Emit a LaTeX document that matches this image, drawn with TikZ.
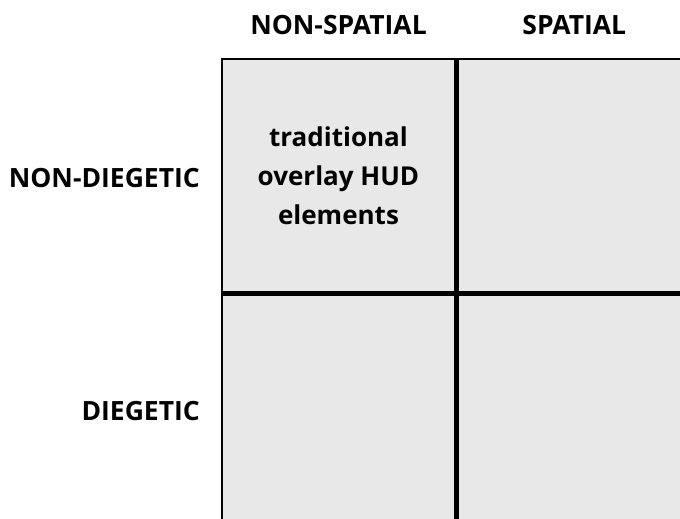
\documentclass[tikz,border=0pt]{standalone}
\usepackage{fontspec}
\setmainfont{Open Sans}
\usetikzlibrary{positioning}

\tikzset{
  cell/.style={draw=black, fill=gray!18, line width=2.8pt,
    minimum width=233pt, minimum height=233pt, inner sep=0pt,
    align=center, font=\bfseries\fontsize{26}{39}\selectfont},
  head/.style={font=\bfseries\fontsize{26.5}{28}\selectfont, inner sep=0pt}
}

\begin{document}
\begin{tikzpicture}[x=1pt,y=-1pt]
  \useasboundingbox (0,0) rectangle (680,519);

  % grid of cells
  \node[cell] (c11) at (338.5,175.5) {traditional\\overlay HUD\\elements};
  \node[cell, right=0pt of c11] (c12) {};
  \node[cell, below=0pt of c11] (c21) {};
  \node[cell, right=0pt of c21] (c22) {};

  % column headings
  \node[head] (ns) at (c11.north |- 0,25) {NON-SPATIAL};
  \node[head] (sp) at (c12.north |- 0,25) {SPATIAL};

  % row headings
  \node[head, anchor=east] (nd) at (200,178 -| 200,0) {NON-DIEGETIC};
  \node[head, anchor=east] (dg) at (c21.west -| 200,0) {DIEGETIC};
\end{tikzpicture}
\end{document}
